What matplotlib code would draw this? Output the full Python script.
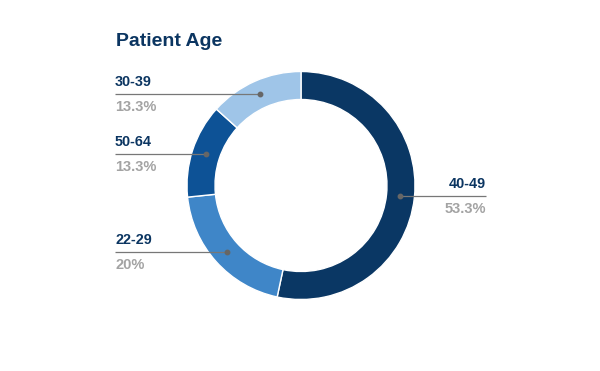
import numpy as np
import matplotlib
matplotlib.use("Agg")
import matplotlib.pyplot as plt

# data
ages = ["40-49", "22-29", "50-64", "30-39"]
shares = [53.3, 20.0, 13.3, 13.3]
pct_labels = ["53.3%", "20%", "13.3%", "13.3%"]
colors = ["#0a3764", "#3f86c8", "#0d5296", "#9fc5e8"]

plt.rcParams['font.family'] = ['Liberation Sans', 'DejaVu Sans']

W, H = 600, 371
fig = plt.figure(figsize=(W/100, H/100), dpi=100)
ax = fig.add_axes([0, 0, 1, 1])
ax.set_xlim(0, W)
ax.set_ylim(0, H)
ax.set_aspect('equal')
ax.axis('off')

cx, cy = 301, H - 185.5
r_out = 114
ring = 28
wedges, _ = ax.pie(shares, colors=colors, startangle=90, counterclock=False,
                   center=(cx, cy), radius=r_out,
                   wedgeprops=dict(width=ring, edgecolor='white', linewidth=1))
ax.set_xlim(0, W)
ax.set_ylim(0, H)

fig.text(116/W, 1 - 41/H, "Patient Age", fontsize=14, fontweight='bold',
         color='#0b3561', va='center', ha='left')

navy = '#0b3561'
grey = '#a3a3a3'
r_mid = r_out - ring/2
for w, name, pct in zip(wedges, ages, pct_labels):
    ang = np.deg2rad((w.theta1 + w.theta2) / 2)
    px = cx + r_mid*np.cos(ang)
    py = cy + r_mid*np.sin(ang)
    if np.cos(ang) > 0:
        tx, ha = 486, 'right'
    else:
        tx, ha = 115, 'left'
    ax.plot([px, tx], [py, py], color='#777777', lw=0.9, solid_capstyle='butt')
    ax.plot(px, py, 'o', ms=3.2, color='#666666')
    ax.text(tx, py + 12.5, name, fontsize=10.4, fontweight='bold', color=navy,
            ha=ha, va='center')
    ax.text(tx, py - 12.5, pct, fontsize=10.5, fontweight='bold', color=grey,
            ha=ha, va='center')

fig.savefig("out.png", dpi=100, facecolor='white')
